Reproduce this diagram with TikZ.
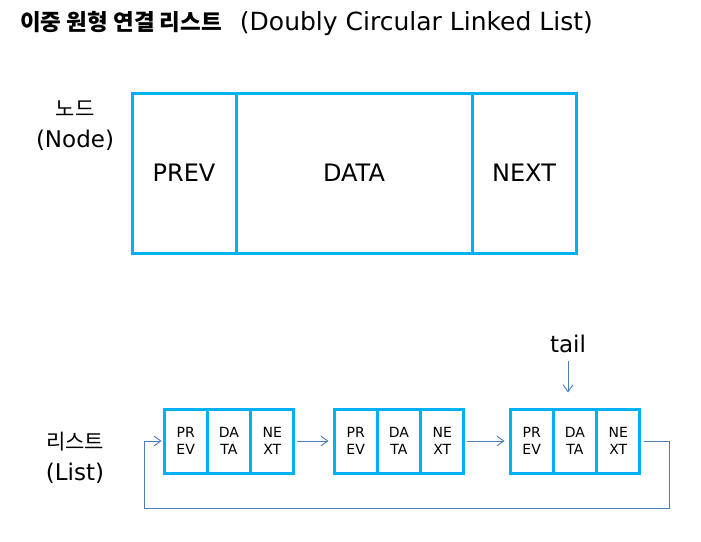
\documentclass[tikz,border=0pt]{standalone}
\usepackage{fontspec}
\setmainfont{DejaVu Sans}
\newfontfamily\kr{Noto Sans CJK KR}
\usetikzlibrary{arrows.meta}
\definecolor{boxc}{HTML}{00B0F0}
\definecolor{linec}{HTML}{4A7EBB}
\begin{document}
\begin{tikzpicture}[x=1pt,y=-1pt,
  bigcell/.style={draw=boxc,line width=3pt,minimum height=160pt,inner sep=0pt,font=\fontsize{24}{24}\selectfont},
  cell/.style={draw=boxc,line width=3pt,minimum width=43.3pt,minimum height=64pt,inner sep=0pt,align=center,font=\fontsize{14}{17}\selectfont},
  conn/.style={draw=linec,line width=0.9pt,-{Straight Barb[length=7pt,width=10pt]}},
  lbl/.style={align=center,font=\fontsize{23}{31}\selectfont}]
\useasboundingbox (0,0) rectangle (701,541);

% title
\node[anchor=base west,inner sep=0pt,font=\fontsize{25}{25}\selectfont] (title) at (20,30)
  {{\kr\bfseries\fontsize{22.5}{25}\selectfont 이중 원형 연결 리스트}\hspace{18pt}(Doubly Circular Linked List)};

% node structure
\node[lbl] (nodelbl) at (75,126) {{\kr\fontsize{21}{31}\selectfont 노드}\\(Node)};
\node[bigcell,minimum width=104pt] (prev) at (184,173) {PREV};
\node[bigcell,minimum width=236pt] (data) at (354,173) {DATA};
\node[bigcell,minimum width=104pt] (next) at (524,173) {NEXT};

% list
\node[lbl] (listlbl) at (75,458) {{\kr\fontsize{21}{31}\selectfont 리스트}\\(List)};

\node[cell] (a1) at (185.7,441) {PR\\EV};
\node[cell] (a2) at (229,441) {DA\\TA};
\node[cell] (a3) at (272.3,441) {NE\\XT};

\node[cell] (b1) at (355.7,441) {PR\\EV};
\node[cell] (b2) at (399,441) {DA\\TA};
\node[cell] (b3) at (442.3,441) {NE\\XT};

\node[cell] (c1) at (531.7,441) {PR\\EV};
\node[cell] (c2) at (575,441) {DA\\TA};
\node[cell] (c3) at (618.3,441) {NE\\XT};

\node[lbl,anchor=base] (tail) at (568,352) {tail};

\draw[conn,shorten <=2pt,shorten >=4pt] (a3.east) -- (b1.west);
\draw[conn,shorten <=2pt,shorten >=4pt] (b3.east) -- (c1.west);
\draw[conn,shorten <=5pt,shorten >=15pt] (tail.south) -- (tail.south |- c2.north);
\draw[conn,shorten <=3pt,shorten >=1pt] (c3.east) -- ++(28,0) -- ++(0,67)
  -| ([xshift=-18pt]a1.west) -- (a1.west);
\end{tikzpicture}
\end{document}
